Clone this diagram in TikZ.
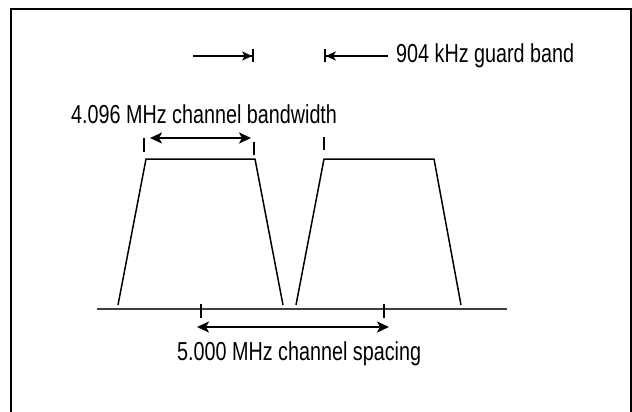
\documentclass[tikz,border=0pt]{standalone}
\usepackage{fontspec}
\setmainfont{Liberation Sans}[FakeStretch=0.76]
\usetikzlibrary{arrows.meta}
\tikzset{
  spec/.style={line width=1.5pt, line join=miter},
  tickmark/.style={line width=1.5pt},
  span/.style={line width=1.8pt, {Stealth[length=12pt,width=11pt,inset=3pt]}-{Stealth[length=12pt,width=11pt,inset=3pt]}},
  guard/.style={line width=1.5pt, -{Stealth[length=10pt,width=9pt,inset=2.5pt]Bar[width=13pt,line width=1.8pt]}},
  label/.style={anchor=base west, inner sep=0pt, font=\fontsize{26}{30}\selectfont}
}
\begin{document}
\begin{tikzpicture}[x=1pt,y=1pt,yscale=-1,xscale=1]
\useasboundingbox (0,0) rectangle (632,412);

% Frame
\draw [line width=1.5pt] (11,412) -- (11,9) -- (631,9) -- (631,412);

% Frequency axis
\draw [line width=1.6pt, draw=black!75] (97,309) -- (507,309);

% Channel 1
\draw [spec] (118,305) -- (146,159) -- (255,159) -- (283,305);
% Channel 2
\draw [spec] (296,305) -- (324,159) -- (434,159) -- (461,305);

% Tick marks
\coordinate (bwL) at (144,138);
\coordinate (bwR) at (254,142);
\coordinate (gbR) at (324,137);
\coordinate (csL) at (201,304);
\coordinate (csR) at (384,304);
\draw [tickmark] (bwL) -- ++(0,14);
\draw [tickmark] (bwR) -- ++(0,13);
\draw [tickmark] (gbR) -- ++(0,13);
\draw [tickmark] (csL) -- ++(0,14);
\draw [tickmark] (csR) -- ++(0,14);

% Channel bandwidth
\coordinate (bwA) at (150,138);
\coordinate (bwB) at (251,138);
\draw [span] (bwA) -- (bwB);
\node (bwtext) [label] at (71,123) {4.096 MHz channel bandwidth};

% Guard band
\coordinate (gL0) at (193,56);
\coordinate (gL1) at (254,56);
\coordinate (gR0) at (388,56);
\coordinate (gR1) at (324,56);
\draw [guard] (gL0) -- (gL1);
\draw [guard] (gR0) -- (gR1);
\node (gbtext) [label] at (396,63) {904 kHz guard band};

% Channel spacing
\coordinate (csA) at (197,327);
\coordinate (csB) at (389,327);
\draw [span] (csA) -- (csB);
\node (cstext) [label] at (177,360) {5.000 MHz channel spacing};

\end{tikzpicture}
\end{document}
